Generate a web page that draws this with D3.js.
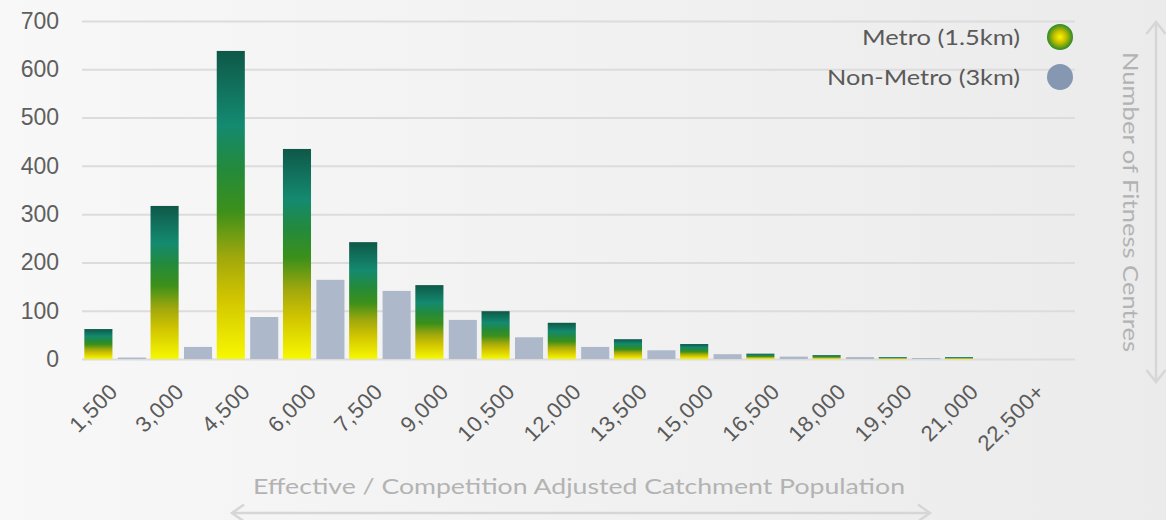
<!DOCTYPE html>
<html>
<head>
<meta charset="utf-8">
<script src="https://cdn.jsdelivr.net/npm/d3@7"></script>
<style>
  html, body { margin: 0; padding: 0; }
  body { width: 1166px; height: 520px; overflow: hidden; }
  svg { display: block; font-family: "Lato", "DejaVu Sans", sans-serif; }
</style>
</head>
<body>
<svg id="chart" width="1166" height="520"></svg>
<script>
var categories = ["1,500", "3,000", "4,500", "6,000", "7,500", "9,000", "10,500", "12,000",
                  "13,500", "15,000", "16,500", "18,000", "19,500", "21,000", "22,500+"];
var metroValues    = [62, 317, 638, 435, 242, 153, 99, 75, 41, 31, 11, 8, 4, 4, 0];
var nonMetroValues = [3, 25, 87, 164, 141, 81, 45, 25, 18, 10, 5, 4, 2, 0, 0];
var seriesNames = ["Metro (1.5km)", "Non-Metro (3km)"];
var yTicks = [0, 100, 200, 300, 400, 500, 600, 700];

var width = 1166, height = 520;
var margin = { left: 82, right: 91, top: 21, bottom: 161 };
var plotW = width - margin.left - margin.right;
var plotH = height - margin.top - margin.bottom;

var svg = d3.select("#chart");
var defs = svg.append("defs");

// background
var bg = defs.append("linearGradient").attr("id", "bg").attr("x1", 0).attr("x2", 1).attr("y1", 0).attr("y2", 0);
bg.append("stop").attr("offset", "0").attr("stop-color", "#f8f8f8");
bg.append("stop").attr("offset", "0.06").attr("stop-color", "#f7f7f7");
bg.append("stop").attr("offset", "1").attr("stop-color", "#ebebeb");
svg.append("rect").attr("width", width).attr("height", height).attr("fill", "url(#bg)");

// bar gradient
var mg = defs.append("linearGradient").attr("id", "metroGrad").attr("x1", 0).attr("x2", 0).attr("y1", 1).attr("y2", 0);
[[0, "#f8f800"], [0.2, "#d0c400"], [0.33, "#a0a80c"], [0.48, "#3c901a"], [0.62, "#238a3c"],
 [0.76, "#148a70"], [1, "#0e5848"]].forEach(function(s) {
  mg.append("stop").attr("offset", s[0]).attr("stop-color", s[1]);
});

var lg = defs.append("radialGradient").attr("id", "legendGrad").attr("cx", "50%").attr("cy", "50%").attr("r", "50%");
lg.append("stop").attr("offset", "0").attr("stop-color", "#f8f800");
lg.append("stop").attr("offset", "0.45").attr("stop-color", "#c8c000");
lg.append("stop").attr("offset", "1").attr("stop-color", "#2a8a24");

var g = svg.append("g").attr("transform", "translate(" + margin.left + "," + margin.top + ")");

var x0 = d3.scaleBand().domain(categories).range([0, plotW]).paddingInner(0).paddingOuter(0);
var x1 = d3.scaleBand().domain(seriesNames).range([0, x0.bandwidth()]).paddingInner(0.16).paddingOuter(0.07);
var y = d3.scaleLinear().domain([0, 700]).range([plotH, 0]);

// gridlines + y labels
var yAxis = g.append("g").attr("class", "y-axis")
  .call(d3.axisLeft(y).tickValues(yTicks).tickSize(-plotW).tickPadding(23).tickFormat(d3.format("d")));
yAxis.select(".domain").remove();
yAxis.selectAll(".tick line").attr("stroke", "#dcdcdc").attr("stroke-width", 2);
yAxis.selectAll(".tick text").attr("fill", "#5f5f5f").attr("font-size", 23);

// bars
var groups = g.selectAll(".cat").data(categories).enter().append("g")
  .attr("transform", function(d) { return "translate(" + x0(d) + ",0)"; });

groups.append("rect")
  .attr("x", x1(seriesNames[0]))
  .attr("width", x1.bandwidth())
  .attr("y", function(d, i) { return y(metroValues[i]); })
  .attr("height", function(d, i) { return plotH - y(metroValues[i]); })
  .attr("fill", "url(#metroGrad)");

groups.append("rect")
  .attr("x", x1(seriesNames[1]))
  .attr("width", x1.bandwidth())
  .attr("y", function(d, i) { return y(nonMetroValues[i]); })
  .attr("height", function(d, i) { return plotH - y(nonMetroValues[i]); })
  .attr("fill", "#adb8ca");

// x labels
var xAxis = g.append("g").attr("transform", "translate(0," + plotH + ")")
  .call(d3.axisBottom(x0).tickSize(0).tickPadding(0));
xAxis.select(".domain").remove();
xAxis.selectAll(".tick text")
  .attr("fill", "#5a5a5a").attr("font-size", 22)
  .attr("text-anchor", "end")
  .attr("dy", 0)
  .attr("letter-spacing", 0.5)
  .attr("transform", "translate(4,34) rotate(-45)");

// legend
var legendWidths = [158, 193];
var legend = svg.append("g").attr("class", "legend");
seriesNames.forEach(function(name, i) {
  var ly = 37 + i * 40;
  legend.append("text").attr("x", 1020).attr("y", ly + 8).attr("text-anchor", "end")
    .attr("fill", "#5a5a5a").attr("font-size", 22)
    .attr("textLength", legendWidths[i]).attr("lengthAdjust", "spacingAndGlyphs")
    .text(name);
  legend.append("circle").attr("cx", 1060).attr("cy", ly).attr("r", 13)
    .attr("fill", i === 0 ? "url(#legendGrad)" : "#8597b1");
});

// arrow axes
function chevron(sel, px, py, dir) {
  var s = 12, pts;
  if (dir === "up") pts = [[px - s * 0.8, py + s], [px, py], [px + s * 0.8, py + s]];
  if (dir === "down") pts = [[px - s * 0.8, py - s], [px, py], [px + s * 0.8, py - s]];
  if (dir === "left") pts = [[px + s, py - s * 0.7], [px, py], [px + s, py + s * 0.7]];
  if (dir === "right") pts = [[px - s, py - s * 0.7], [px, py], [px - s, py + s * 0.7]];
  sel.append("path").attr("d", d3.line()(pts)).attr("fill", "none")
    .attr("stroke", "#d6d6d6").attr("stroke-width", 2.5);
}
var arrows = svg.append("g");
arrows.append("line").attr("x1", 1156).attr("x2", 1156).attr("y1", 22).attr("y2", 382)
  .attr("stroke", "#d6d6d6").attr("stroke-width", 2.5);
chevron(arrows, 1156, 22, "up");
chevron(arrows, 1156, 382, "down");
arrows.append("line").attr("x1", 232).attr("x2", 930).attr("y1", 513).attr("y2", 513)
  .attr("stroke", "#d6d6d6").attr("stroke-width", 2.5);
chevron(arrows, 232, 513, "left");
chevron(arrows, 930, 513, "right");

svg.append("text").attr("transform", "translate(1123,202) rotate(90)")
  .attr("text-anchor", "middle").attr("fill", "#b3b3b3").attr("font-size", 22)
  .attr("textLength", 300).attr("lengthAdjust", "spacingAndGlyphs")
  .text("Number of Fitness Centres");

svg.append("text").attr("x", 579).attr("y", 494).attr("text-anchor", "middle")
  .attr("fill", "#b3b3b3").attr("font-size", 22)
  .attr("textLength", 652).attr("lengthAdjust", "spacingAndGlyphs")
  .text("Effective / Competition Adjusted Catchment Population");
</script>
</body>
</html>
